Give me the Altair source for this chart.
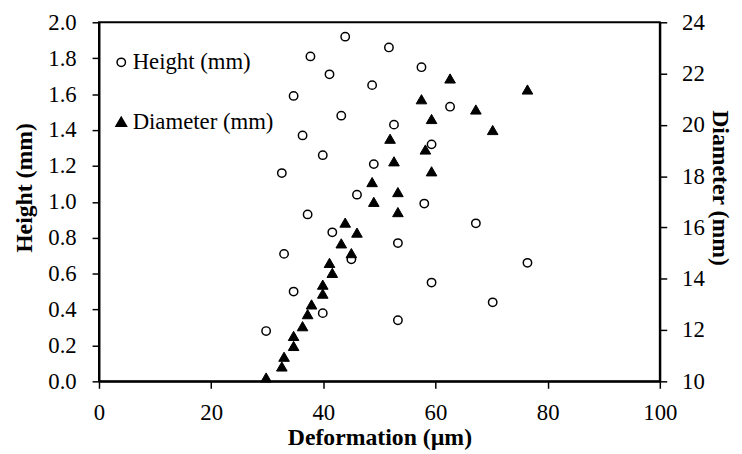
import altair as alt
import pandas as pd

# Height (mm) series — open circles, left axis
height_x = [29.8, 32.6, 33.0, 34.7, 34.7, 36.3, 37.2, 37.7, 39.9, 39.9, 41.1, 41.6, 43.2, 43.9, 45.0,
            46.0, 48.7, 49.0, 51.7, 52.6, 53.3, 53.3, 57.5, 58.0, 59.3, 59.3, 62.6, 67.2, 70.2, 76.4]
height_y = [0.28, 1.16, 0.71, 1.59, 0.50, 1.37, 0.93, 1.81, 1.26, 0.38, 1.71, 0.83, 1.48, 1.92, 0.68,
            1.04, 1.65, 1.21, 1.86, 1.43, 0.77, 0.34, 1.75, 0.99, 1.32, 0.55, 1.53, 0.88, 0.44, 0.66]

# Diameter (mm) series — filled triangles, right axis
diam_x = [29.8, 32.6, 33.0, 34.7, 34.7, 36.3, 37.2, 37.9, 39.9, 39.9, 41.1, 41.6, 43.2, 43.9, 45.0,
          46.0, 48.7, 49.0, 51.9, 52.6, 53.3, 53.3, 57.5, 58.2, 59.3, 59.3, 62.6, 67.2, 70.2, 76.4]
diam_y = [10.15, 10.58, 10.96, 11.38, 11.77, 12.15, 12.62, 13.0, 13.77, 13.42, 14.62, 14.23, 15.38, 16.19, 15.0,
          15.8, 17.77, 17.0, 19.46, 18.58, 17.38, 16.6, 21.0, 19.04, 20.23, 18.19, 21.81, 20.6, 19.8, 21.38]

x_ticks = [0, 20, 40, 60, 80, 100]
height_ticks = [0.0, 0.2, 0.4, 0.6, 0.8, 1.0, 1.2, 1.4, 1.6, 1.8, 2.0]
diam_ticks = [10, 12, 14, 16, 18, 20, 22, 24]
series_order = ["Height (mm)", "Diameter (mm)"]

h = pd.DataFrame({"Deformation": height_x, "value": height_y, "series": series_order[0]})
d = pd.DataFrame({"Deformation": diam_x, "value": diam_y, "series": series_order[1]})
df = pd.concat([h, d], ignore_index=True)

FONT = "Liberation Serif, Times New Roman, serif"

legend = alt.Legend(
    orient="none", legendX=11, legendY=29, title=None,
    labelFont=FONT, labelFontSize=23, labelColor="black", labelOffset=0,
    symbolStrokeColor="black", symbolStrokeWidth=1.5, rowPadding=36, padding=0,
)

shape = alt.Shape("series:N", scale=alt.Scale(domain=series_order, range=["circle", "triangle-up"]), legend=legend)
fill = alt.Fill("series:N", scale=alt.Scale(domain=series_order, range=["white", "black"]), legend=legend)
stroke = alt.Stroke("series:N", scale=alt.Scale(domain=series_order, range=["black", "black"]), legend=legend)
size = alt.Size("series:N", scale=alt.Scale(domain=series_order, range=[72, 115]), legend=legend)

x = alt.X("Deformation:Q", scale=alt.Scale(domain=[0, 100], nice=False),
          axis=alt.Axis(values=x_ticks, title="Deformation (µm)", labelPadding=14,
                        titleBaseline="alphabetic", titleY=64))

base = alt.Chart(df)

left = base.transform_filter(alt.datum.series == series_order[0]).mark_point(
    strokeWidth=1.5, opacity=1
).encode(
    x=x,
    y=alt.Y("value:Q", scale=alt.Scale(domain=[0, 2], nice=False, zero=False),
            axis=alt.Axis(values=height_ticks, format=".1f", title="Height (mm)", orient="left",
                          labelPadding=16, titleX=-75, titleY=167, titleBaseline="middle")),
    shape=shape, fill=fill, stroke=stroke, size=size,
)

right = base.transform_filter(alt.datum.series == series_order[1]).mark_point(
    strokeWidth=1, opacity=1
).encode(
    x=x,
    y=alt.Y("value:Q", scale=alt.Scale(domain=[10, 24], nice=False, zero=False),
            axis=alt.Axis(values=diam_ticks, format="d", title="Diameter (mm)", orient="right",
                          labelPadding=15, titleX=60, titleY=167, titleBaseline="middle")),
    shape=shape, fill=fill, stroke=stroke, size=size,
)

chart = alt.layer(left, right).resolve_scale(y="independent").properties(
    width=567, height=363,
    autosize=alt.AutoSizeParams(type="none"),
    padding={"left": 92, "top": 12, "right": 75, "bottom": 71},
).configure_view(
    stroke="black", strokeWidth=2
).configure_axis(
    grid=False, domainColor="black", domainWidth=2, tickColor="black", tickWidth=1.5, tickSize=7,
    labelFlush=False, labelOverlap=False,
    labelFont=FONT, labelFontSize=23, labelColor="black",
    titleFont=FONT, titleFontSize=24, titleFontWeight="bold", titleColor="black",
)

chart.save("out.html", embed_options={"renderer": "svg", "actions": False})
